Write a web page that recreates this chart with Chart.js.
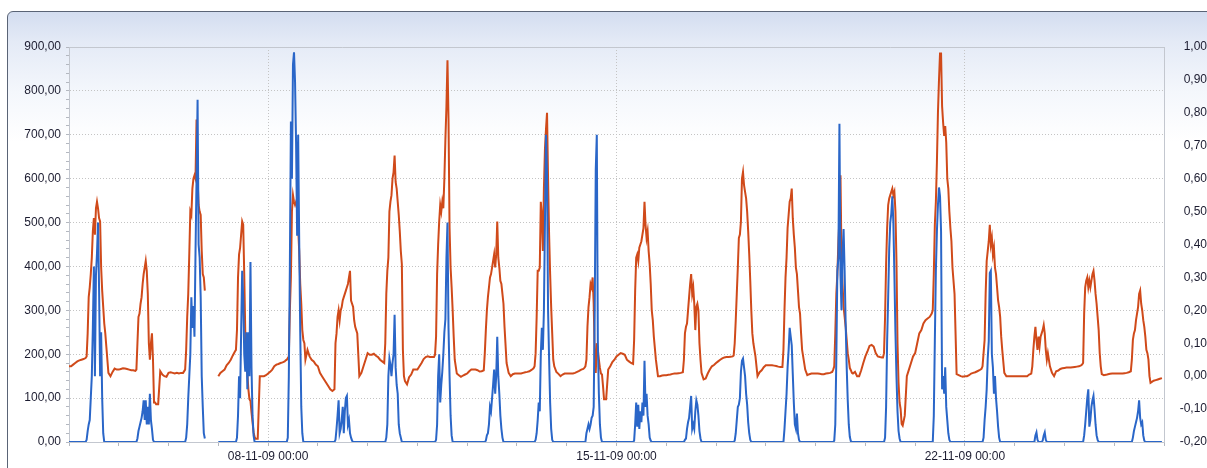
<!DOCTYPE html>
<html>
<head>
<meta charset="utf-8">
<script src="https://cdn.jsdelivr.net/npm/chart.js@4.4.0/dist/chart.umd.min.js"></script>
<style>
  html, body { margin: 0; padding: 0; background: #fff; }
  body { width: 1207px; height: 468px; overflow: hidden; position: relative; }
  #panel {
    position: absolute; left: 7px; top: 11px; width: 1230px; height: 490px;
    border: 1px solid #5a6476; border-radius: 6px 0 0 0;
    background: linear-gradient(to bottom, #d3ddf0 0px, #e4eaf6 30px, #f4f7fc 80px, #ffffff 130px);
  }
  #chart { position: absolute; left: 0; top: 0; }
</style>
</head>
<body>
<div id="panel"></div>
<canvas id="chart" width="1207" height="468"></canvas>
<script>
// sample times inside each day (hours), same for every day
const sampleHours = [0, 1, 2, 3, 4, 5, 6, 7, 8,
  8.5, 9, 9.5, 10, 10.5, 11, 11.5, 12, 12.5, 13, 13.5, 14, 14.5, 15, 15.5, 16, 16.5, 17, 17.5,
  18, 19, 20, 21, 22, 23];

// x axis: hours since 04-11-09 00:00
const xMaxHours = 528;
const weekLabelHours = [96, 264, 432];
const weekLabels = ['08-11-09 00:00', '15-11-09 00:00', '22-11-09 00:00'];

// blue series (left axis), one row per day from 04-11 to 25-11
const blueByDay = [
  [0,0,0,0,0,0,0,0,0, 5,25,40,50,100,150,260,400,150,380,430,500,350,150,250,100,20,0,0, 0,0,0,0,0,0],
  [0,0,0,0,0,0,0,0,0, 0,8,25,35,45,55,70,95,50,95,40,80,40,110,50,30,5,0,0, 0,0,0,0,0,0],
  [0,0,0,0,0,0,0,0,0, 10,40,100,150,200,330,260,310,240,430,600,780,450,420,330,150,80,20,8, null,null,null,null,null,null],
  [0,0,0,0,0,0,0,0,0, 0,10,60,150,100,250,390,330,200,160,250,120,250,150,410,170,60,15,0, 0,0,0,0,0,0],
  [0,0,0,0,0,0,0,0,0, 0,0,10,150,400,730,600,860,888,820,680,470,700,460,250,80,20,0,0, 0,0,0,0,0,0],
  [0,0,0,0,0,0,0,0,0, 5,30,60,95,20,30,50,80,20,70,100,105,40,50,20,10,3,0,0, 0,0,0,0,0,0],
  [0,0,0,0,0,0,0,0,0, 0,10,40,150,190,175,150,180,200,290,170,130,110,40,20,10,0,0,0, 0,0,0,0,0,0],
  [0,0,0,0,0,0,0,0,0, 0,5,40,150,200,90,130,160,200,250,280,420,500,260,150,60,15,0,0, 0,0,0,0,0,0],
  [0,0,0,0,0,0,0,0,0, 0,3,15,20,40,80,70,100,130,165,110,150,240,150,110,60,30,10,0, 0,0,0,0,0,0],
  [0,0,0,0,0,0,0,0,0, 0,5,20,50,90,70,200,260,210,300,500,700,610,300,190,90,30,5,0, 0,0,0,0,0,0],
  [0,0,0,0,0,0,0,0,0, 0,0,20,30,40,30,40,55,60,80,300,620,700,230,110,40,10,0,0, 0,0,0,0,0,0],
  [0,0,0,0,0,0,0,0,0, 3,40,90,35,85,30,70,45,90,60,185,80,110,60,40,10,3,0,0, 0,0,0,0,0,0],
  [0,0,0,0,0,0,0,0,0, 0,5,8,30,45,55,80,105,30,40,30,70,95,85,60,25,8,0,0, 0,0,0,0,0,0],
  [0,0,0,0,0,0,0,0,0, 0,3,20,50,80,85,100,160,185,190,170,150,110,85,45,20,5,0,0, 0,0,0,0,0,0],
  [0,0,0,0,0,0,0,0,0, 0,30,70,110,170,210,260,240,220,155,90,40,30,65,20,5,0,0,0, 0,0,0,0,0,0],
  [0,0,0,0,0,0,0,0,0, 0,3,40,190,390,420,725,380,300,430,485,390,270,170,95,40,12,2,0, 0,0,0,0,0,0],
  [0,0,0,0,0,0,0,0,0, 0,0,10,80,230,330,440,500,520,560,500,380,250,150,70,25,8,0,0, 0,0,0,0,0,0],
  [0,0,0,0,0,0,0,0,0, 0,60,230,390,480,540,580,560,480,120,150,110,170,80,50,20,5,0,0, 0,0,0,0,0,0],
  [0,0,0,0,0,0,0,0,0, 0,10,50,80,120,190,230,385,390,200,170,110,150,100,70,35,10,0,0, 0,0,0,0,0,0],
  [0,0,0,0,0,0,0,0,0, 0,0,0,15,22,5,0,0,0,0,3,15,22,5,0,0,0,0,0, 0,0,0,0,0,0],
  [0,0,0,0,0,0,0,0,0, 0,0,15,40,70,100,120,35,50,80,95,105,75,40,15,5,0,0,0, 0,0,0,0,0,0],
  [0,0,0,0,0,0,0,0,0, 0,10,25,35,45,55,70,95,55,40,45,15,3,0,0,0,0,0,0, 0,0,0,0,0,0]
];

// orange series (right axis), one row per day
const orangeByDay = [
  [.03,.03,.035,.04,.045,.048,.05,.052,.055, .06,.13,.24,.27,.31,.36,.44,.48,.43,.51,.53,.51,.48,.47,.33,.26,.21,.16,.13, .09,.01,0,.013,.023,.02],
  [.02,.022,.024,.023,.022,.02,.018,.018,.016, .02,.10,.18,.19,.22,.24,.28,.31,.33,.35,.32,.25,.10,.05,.10,.13,.05,-.08,-.08, -.085,-.085,.015,.005,0,-.002],
  [.01,.012,.01,.008,.01,.008,.01,.01,.02, .08,.18,.25,.37,.50,.49,.57,.60,.61,.60,.78,.60,.52,.50,.49,.38,.31,.30,.26, null,null,null,null,null,null],
  [0,.01,.015,.02,.033,.04,.05,.063,.075, .08,.14,.30,.37,.39,.43,.47,.46,.31,.13,.03,.008,-.04,-.07,-.075,-.11,-.14,-.17,-.185, -.19,-.19,0,0,0,.003],
  [.008,.013,.02,.03,.035,.037,.04,.042,.045, .048,.05,.055,.06,.2,.3,.5,.55,.53,.52,.53,.52,.45,.38,.28,.22,.14,.11,.1, .05,.08,.06,.05,.045,.035],
  [.03,.01,0,-.01,-.02,-.03,-.04,-.045,-.04, .10,.13,.18,.20,.17,.2,.21,.23,.24,.25,.26,.27,.28,.30,.32,.23,.22,.21,.17, .15,.13,0,.01,.03,.05],
  [.07,.065,.065,.068,.062,.058,.05,.045,.04, .1,.25,.32,.36,.5,.53,.55,.6,.62,.67,.59,.57,.53,.49,.44,.38,.34,.08,0, -.015,-.025,-.003,.005,.02,.02],
  [.02,.03,.04,.052,.058,.06,.058,.058,.058, .065,.12,.31,.40,.47,.52,.5,.53,.51,.6,.72,.82,.96,.78,.45,.33,.27,.2,.12, .05,.008,.003,-.002,.002,.005],
  [.008,.015,.02,.02,.02,.018,.014,.015,.018, .07,.14,.2,.24,.27,.3,.31,.33,.35,.37,.33,.37,.47,.36,.33,.29,.28,.25,.22, .15,.04,.01,0,.006,.008],
  [.008,.008,.008,.01,.012,.013,.015,.019,.024, .03,.07,.18,.32,.32,.33,.53,.49,.38,.57,.69,.75,.8,.6,.43,.31,.21,.13,.05, .03,.013,.007,0,.005,.008],
  [.008,.008,.008,.008,.01,.013,.016,.02,.022, .025,.03,.05,.15,.21,.24,.28,.27,.3,.22,.06,.01,.1,.08,.05,.025,.008,.005,-.03, -.07,-.07,.02,.03,.043,.05],
  [.06,.065,.07,.068,.065,.05,.045,.04,.037, .11,.26,.36,.37,.35,.39,.40,.41,.43,.45,.53,.46,.42,.44,.38,.34,.28,.2,.17, .12,.05,0,0,.002,.003],
  [.003,.004,.005,.007,.008,.008,.009,.01,.012, .05,.13,.15,.16,.2,.24,.28,.31,.25,.27,.22,.14,.21,.22,.2,.1,.05,.01,0, -.01,-.007,.008,.02,.03,.034],
  [.04,.045,.05,.054,.057,.058,.058,.059,.06, .063,.1,.17,.25,.33,.42,.43,.47,.6,.62,.58,.56,.54,.5,.44,.37,.29,.2,.13, .1,.06,0,.012,.018,.027],
  [.033,.033,.033,.033,.032,.031,.029,.028,.028, .08,.2,.3,.36,.45,.49,.53,.54,.57,.48,.43,.39,.33,.31,.26,.21,.19,.13,.08, .06,.02,.003,.006,.008,.008],
  [.008,.008,.007,.006,.006,.008,.009,.01,.013, .02,.03,.13,.25,.31,.41,.48,.61,.36,.28,.21,.18,.15,.11,.07,.05,.025,.018,.01, .008,.013,0,0,.018,.04],
  [.06,.075,.092,.095,.09,.07,.06,.058,.057, .057,.07,.18,.34,.45,.52,.54,.55,.56,.57,.55,.56,.5,.35,.1,-.02,-.08,-.1,-.145, -.15,-.12,0,.02,.04,.06],
  [.07,.10,.13,.14,.16,.17,.175,.18,.19, .2,.31,.46,.53,.65,.8,.9,.98,.98,.82,.77,.73,.76,.71,.6,.57,.5,.45,.41, .33,.25,.006,.003,0,-.002],
  [0,0,.003,.008,.01,.012,.015,.018,.022, .03,.07,.11,.25,.35,.38,.41,.46,.4,.42,.37,.39,.33,.31,.27,.23,.21,.18,.12, .08,.01,0,0,0,0],
  [0,0,0,0,0,0,0,.005,.008, .03,.08,.12,.15,.11,.08,.12,.09,.12,.13,.14,.155,.13,.08,.05,.07,.05,.03,.02, .01,0,.015,.017,.022,.024],
  [.025,.026,.026,.026,.027,.028,.029,.03,.033, .035,.04,.19,.27,.29,.3,.27,.29,.27,.29,.31,.32,.29,.25,.22,.18,.14,.07,.03, .006,.003,.004,.006,.007,.008],
  [.008,.008,.008,.008,.008,.009,.01,.012,.015, .05,.11,.13,.14,.17,.19,.21,.25,.26,.22,.2,.17,.15,.12,.08,.07,.05,0,-.02, -.018,-.014,-.012,-.01,-.008,-.006]
];

const blueColor = '#2a66c8';
const orangeColor = '#d04a1a';
const textColor = '#1c1c30';
const frameColor = '#c3c7cf';
const gridColor = '#c4c4c4';
const tickFont = { family: "'Liberation Sans', Arial, sans-serif", size: 12 };

function buildPoints(rows) {
  const pts = [];
  rows.forEach((row, d) => {
    row.forEach((v, j) => pts.push({ x: d * 24 + sampleHours[j], y: v }));
  });
  return pts;
}

function commaFormat(v) {
  if (Math.abs(v) < 1e-9) v = 0;
  return v.toFixed(2).replace('.', ',');
}

// top frame line of the plot area
const plotFrame = {
  id: 'plotFrame',
  afterDraw(chart) {
    const { ctx, chartArea: a } = chart;
    ctx.save();
    ctx.strokeStyle = frameColor;
    ctx.lineWidth = 1;
    ctx.beginPath();
    ctx.moveTo(a.left, a.top + 0.5);
    ctx.lineTo(a.right, a.top + 0.5);
    ctx.stroke();
    ctx.restore();
  }
};

const ctx = document.getElementById('chart').getContext('2d');
new Chart(ctx, {
  type: 'line',
  data: {
    datasets: [
      {
        label: 'blue',
        yAxisID: 'y',
        data: buildPoints(blueByDay),
        borderColor: blueColor,
        borderWidth: 2,
        pointRadius: 0,
        tension: 0,
        spanGaps: false
      },
      {
        label: 'orange',
        yAxisID: 'y2',
        data: buildPoints(orangeByDay),
        borderColor: orangeColor,
        borderWidth: 2,
        pointRadius: 0,
        tension: 0,
        spanGaps: false
      }
    ]
  },
  options: {
    responsive: false,
    animation: false,
    devicePixelRatio: 1,
    layout: { padding: { top: 47, left: 0, right: 0, bottom: 0 } },
    plugins: {
      legend: { display: false },
      tooltip: { enabled: false }
    },
    scales: {
      x: {
        type: 'linear',
        min: 0,
        max: xMaxHours,
        afterFit: s => { s.height = 26; },
        ticks: {
          stepSize: 24,
          autoSkip: false,
          maxRotation: 0,
          padding: 3,
          color: textColor,
          font: tickFont,
          callback: v => {
            const i = weekLabelHours.indexOf(Math.round(v));
            return i >= 0 ? weekLabels[i] : '';
          }
        },
        grid: {
          color: c => (c.tick && weekLabelHours.includes(Math.round(c.tick.value))) ? gridColor : 'rgba(0,0,0,0)',
          tickColor: '#b4b8c0',
          tickLength: 4
        },
        border: { color: frameColor, dash: [1, 2] }
      },
      y: {
        position: 'left',
        min: 0,
        max: 900,
        afterFit: s => { s.width = 69; },
        ticks: {
          stepSize: 20,
          autoSkip: false,
          padding: 5,
          color: textColor,
          font: tickFont,
          callback: v => (Math.round(v) % 100 === 0 ? commaFormat(v) : '')
        },
        grid: {
          color: c => (c.tick && Math.round(c.tick.value) % 100 === 0 && c.tick.value > 0) ? gridColor : 'rgba(0,0,0,0)',
          tickColor: '#b4b8c0',
          tickLength: 3
        },
        border: { color: frameColor, dash: [1, 2] }
      },
      y2: {
        position: 'right',
        min: -0.2,
        max: 1.0,
        afterFit: s => { s.width = 43; },
        ticks: {
          stepSize: 0.1,
          autoSkip: false,
          padding: 12,
          crossAlign: 'far',
          color: textColor,
          font: tickFont,
          callback: v => commaFormat(v)
        },
        grid: { display: false, drawTicks: false },
        border: { display: true, color: frameColor }
      }
    }
  },
  plugins: [plotFrame]
});
</script>
</body>
</html>
